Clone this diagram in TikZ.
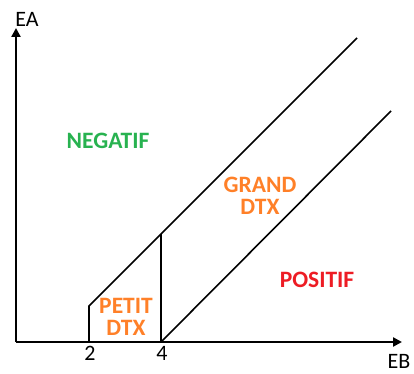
\documentclass[tikz,border=0pt]{standalone}
\usepackage{fontspec}
\setmainfont{Carlito}
\usetikzlibrary{arrows.meta}
\definecolor{vertneg}{RGB}{40,178,80}
\definecolor{orangedtx}{RGB}{255,128,40}
\definecolor{rougepos}{RGB}{237,28,36}
\tikzset{
  axe/.style={line width=2.6pt, -{Triangle[length=9pt,width=9pt]}},
  bord/.style={line width=1.6pt, line join=miter},
  zone/.style={font=\fontsize{23.5}{21.5}\selectfont\bfseries, align=center},
  axelabel/.style={font=\fontsize{22}{22}\selectfont}
}
\begin{document}
\begin{tikzpicture}[x=1pt,y=1pt]
\useasboundingbox (0,0) rectangle (414,373);
% axes
\coordinate (o) at (16,31);
\coordinate (ytop) at (16,345);
\coordinate (xend) at (402,31);
\draw[axe] (o) -- (ytop);
\draw[axe] (o) -- (xend);
\node[axelabel] (ea) at (27,354) {EA};
\node[axelabel] (eb) at (399,12) {EB};
\node[axelabel] (t2) at (90,20) {2};
\node[axelabel] (t4) at (162,20) {4};
% limites des zones
\coordinate (a2) at (89,31);
\coordinate (b2) at (89,67);
\coordinate (a4) at (161,31);
\coordinate (b4) at (161,139);
\coordinate (hautg) at (357,335);
\coordinate (hautd) at (391,262);
\draw[bord] (a2) -- (b2) -- (hautg);
\draw[bord] (a4) -- (b4);
\draw[bord] (a4) -- (hautd);
% zones
\node[zone, text=vertneg] (neg) at (108,232) {NEGATIF};
\node[zone, text=orangedtx] (grand) at (260,177) {GRAND\\DTX};
\node[zone, text=orangedtx] (petit) at (126,56) {PETIT\\DTX};
\node[zone, text=rougepos] (pos) at (317,93) {POSITIF};
\end{tikzpicture}
\end{document}
